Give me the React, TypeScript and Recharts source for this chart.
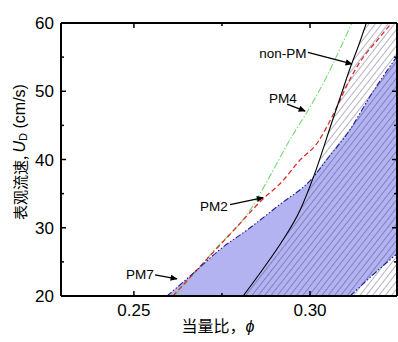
import React from 'react';
import { ComposedChart, Area, Line, XAxis, YAxis, ReferenceLine, ReferenceDot } from 'recharts';

// PM7 band, upper edge (phi, U_D in cm/s)
const pm7UpperPhi = [0.2594, 0.2668, 0.2744, 0.283, 0.2909, 0.3009, 0.3048, 0.3114, 0.3171, 0.3236, 0.3247];
const pm7UpperU = [20, 23.3, 26.8, 30.0, 33.2, 37.4, 40.0, 44.4, 49.3, 54.3, 55.1];
// PM7 band, lower edge
const pm7LowerPhi = [0.3114, 0.3185, 0.3247];
const pm7LowerU = [20, 23.4, 26.2];
// PM2
const pm2Phi = [0.2611, 0.27, 0.279, 0.2864, 0.2923, 0.2966, 0.3023, 0.3063, 0.3114, 0.3142, 0.3193, 0.3232];
const pm2U = [20, 25.0, 30.0, 34.1, 36.9, 39.6, 42.6, 46.3, 51.8, 54.3, 57.6, 60];
// PM4
const pm4Phi = [0.2616, 0.273, 0.283, 0.2878, 0.2943, 0.2991, 0.3048, 0.3085, 0.3119];
const pm4U = [20, 26.8, 32.6, 36.8, 42.9, 46.9, 52.2, 56.2, 60];
// non-PM
const nonPmPhi = [0.281, 0.2867, 0.2923, 0.2972, 0.3011, 0.3063, 0.3091, 0.3114, 0.314, 0.316];
const nonPmU = [20, 24.0, 28.2, 32.6, 37.6, 45.6, 49.9, 53.4, 57.0, 60];

const xMajor = [0.25, 0.3];
const xTicks = [0.25, 0.275, 0.3];
const yMajor = [20, 30, 40, 50, 60];
const yTicks = [20, 25, 30, 35, 40, 45, 50, 55, 60];

const labelText = ['non-PM', 'PM4', 'PM2', 'PM7'];
const labelPhi = [0.2923, 0.2923, 0.2727, 0.2517];
const labelU = [55.6, 49.0, 33.1, 23.2];
const arrowPhi0 = [0.2994, 0.2935, 0.2773, 0.256];
const arrowU0 = [55.7, 48.1, 33.4, 23.1];
const arrowPhi1 = [0.3119, 0.2986, 0.2867, 0.2622];
const arrowU1 = [54.0, 47.1, 34.4, 22.5];

const zip = (xs: number[], ys: number[]) => xs.map((phi, i) => ({ phi, u: ys[i] }));
const upper = zip(pm7UpperPhi, pm7UpperU);
const lower = zip(pm7LowerPhi, pm7LowerU);
const pm2 = zip(pm2Phi, pm2U);
const pm4 = zip(pm4Phi, pm4U);
const nonPm = zip(nonPmPhi, nonPmU);
const hatch = [...nonPm, { phi: 0.3247, u: 60 }];

const FONT = 'Arial, "Liberation Sans", sans-serif';
const CJK = '"Noto Sans CJK SC", sans-serif';

const isMajor = (list: number[], v: number) => list.some((m) => Math.abs(m - v) < 1e-9);

const BottomTick = ({ x, y, payload }: any) => {
  const major = isMajor(xMajor, payload.value);
  return (
    <g>
      <line x1={x} x2={x} y1={y} y2={y - (major ? 5 : 3)} stroke="#000" strokeWidth={1.5} />
      {major && (
        <text x={x} y={y + 20} textAnchor="middle" fontSize={17} fontFamily={FONT} fill="#000">
          {payload.value.toFixed(2)}
        </text>
      )}
    </g>
  );
};
const TopTick = ({ x, y, payload }: any) => {
  const major = isMajor(xMajor, payload.value);
  return <line x1={x} x2={x} y1={y} y2={y + (major ? 5 : 3)} stroke="#000" strokeWidth={1.5} />;
};
const LeftTick = ({ x, y, payload }: any) => {
  const major = isMajor(yMajor, payload.value);
  return (
    <g>
      <line x1={x} x2={x + (major ? 5 : 3)} y1={y} y2={y} stroke="#000" strokeWidth={1.5} />
      {major && (
        <text x={x - 7} y={y + 6} textAnchor="end" fontSize={17} fontFamily={FONT} fill="#000">
          {payload.value}
        </text>
      )}
    </g>
  );
};
const RightTick = ({ x, y, payload }: any) => {
  const major = isMajor(yMajor, payload.value);
  return <line x1={x} x2={x - (major ? 5 : 3)} y1={y} y2={y} stroke="#000" strokeWidth={1.5} />;
};

const Arrow = (p: any) => (
  <line x1={p.x1} y1={p.y1} x2={p.x2} y2={p.y2} stroke="#000" strokeWidth={1.3} markerEnd="url(#ah)" />
);

export default function App() {
  return (
    <div>
      <style>{'body{margin:0}'}</style>
      <ComposedChart width={398} height={342} margin={{ top: 22, right: 0, bottom: 45, left: 60 }}>
        <defs>
          <marker id="ah" viewBox="0 0 10 10" refX="9" refY="5" markerWidth="9" markerHeight="7"
            orient="auto" markerUnits="userSpaceOnUse">
            <path d="M0,0.5 L10,5 L0,9.5 z" fill="#000" />
          </marker>
          <pattern id="hatch" width="5" height="5" patternUnits="userSpaceOnUse" patternTransform="rotate(38)">
            <line x1="0" y1="0" x2="0" y2="5" stroke="#1e1e50" strokeWidth="0.9" strokeOpacity="0.75" />
          </pattern>
        </defs>

        <Area data={upper} dataKey="u" type="monotone" baseValue={20} fill="#b3b3f2" fillOpacity={1}
          stroke="none" isAnimationActive={false} />
        <Area data={lower} dataKey="u" type="monotone" baseValue={20} fill="#fff" fillOpacity={1}
          stroke="none" isAnimationActive={false} />
        <Area data={hatch} dataKey="u" type="monotone" baseValue={20} fill="url(#hatch)" fillOpacity={1}
          stroke="none" isAnimationActive={false} />

        <Line data={pm4} dataKey="u" type="monotone" stroke="#74da74" strokeWidth={1.1}
          strokeDasharray="7 2 1.5 2" dot={false} isAnimationActive={false} />
        <Line data={pm2} dataKey="u" type="monotone" stroke="#e02a2a" strokeWidth={1.3}
          strokeDasharray="5 3" dot={false} isAnimationActive={false} />
        <Line data={upper} dataKey="u" type="monotone" stroke="#1f1f96" strokeWidth={1.1}
          strokeDasharray="6 2 1.5 2 1.5 2" dot={false} isAnimationActive={false} />
        <Line data={lower} dataKey="u" type="monotone" stroke="#1f1f96" strokeWidth={1.1}
          strokeDasharray="6 2 1.5 2 1.5 2" dot={false} isAnimationActive={false} />
        <Line data={nonPm} dataKey="u" type="monotone" stroke="#000" strokeWidth={1.1}
          dot={false} isAnimationActive={false} />

        <XAxis dataKey="phi" type="number" domain={[0.2293, 0.3247]} allowDataOverflow interval={0}
          ticks={xTicks} tick={BottomTick} tickLine={false} tickSize={0} tickMargin={0}
          height={1} axisLine={{ stroke: '#000', strokeWidth: 2 }} />
        <XAxis xAxisId="top" orientation="top" dataKey="phi" type="number" domain={[0.2293, 0.3247]}
          allowDataOverflow interval={0} ticks={xTicks} tick={TopTick} tickLine={false} tickSize={0}
          tickMargin={0} height={1} axisLine={{ stroke: '#000', strokeWidth: 2 }} />
        <YAxis dataKey="u" type="number" domain={[20, 60]} allowDataOverflow interval={0}
          ticks={yTicks} tick={LeftTick} tickLine={false} tickSize={0} tickMargin={0}
          width={1} axisLine={{ stroke: '#000', strokeWidth: 2 }} />
        <YAxis yAxisId="right" orientation="right" type="number" domain={[20, 60]} allowDataOverflow
          interval={0} ticks={yTicks} tick={RightTick} tickLine={false} tickSize={0} tickMargin={0}
          width={1} axisLine={{ stroke: '#000', strokeWidth: 2 }} />

        {labelText.map((t, i) => (
          <ReferenceLine key={'a' + t}
            segment={[{ x: arrowPhi0[i], y: arrowU0[i] }, { x: arrowPhi1[i], y: arrowU1[i] }]}
            shape={Arrow} />
        ))}
        {labelText.map((t, i) => (
          <ReferenceDot key={'l' + t} x={labelPhi[i]} y={labelU[i]} r={0} fill="none" stroke="none"
            label={{ value: t, position: 'center', fontSize: 13.5, fontFamily: FONT, fill: '#000' }} />
        ))}

        <text transform="rotate(-90 19 152)" x={19} y={152} textAnchor="middle" dominantBaseline="central"
          fontSize={16} fontFamily={FONT} fill="#000">
          <tspan fontFamily={CJK} fontSize={15}>表观流速, </tspan>
          <tspan fontStyle="italic">U</tspan>
          <tspan fontSize={11} dy={4}>D</tspan>
          <tspan dy={-4}> (cm/s)</tspan>
        </text>
        <text x={218} y={332} textAnchor="middle" fontSize={16} fontFamily={CJK} fill="#000">
          当量比，<tspan fontFamily={FONT} fontStyle="italic" fontSize={16}>ϕ</tspan>
        </text>
      </ComposedChart>
    </div>
  );
}
